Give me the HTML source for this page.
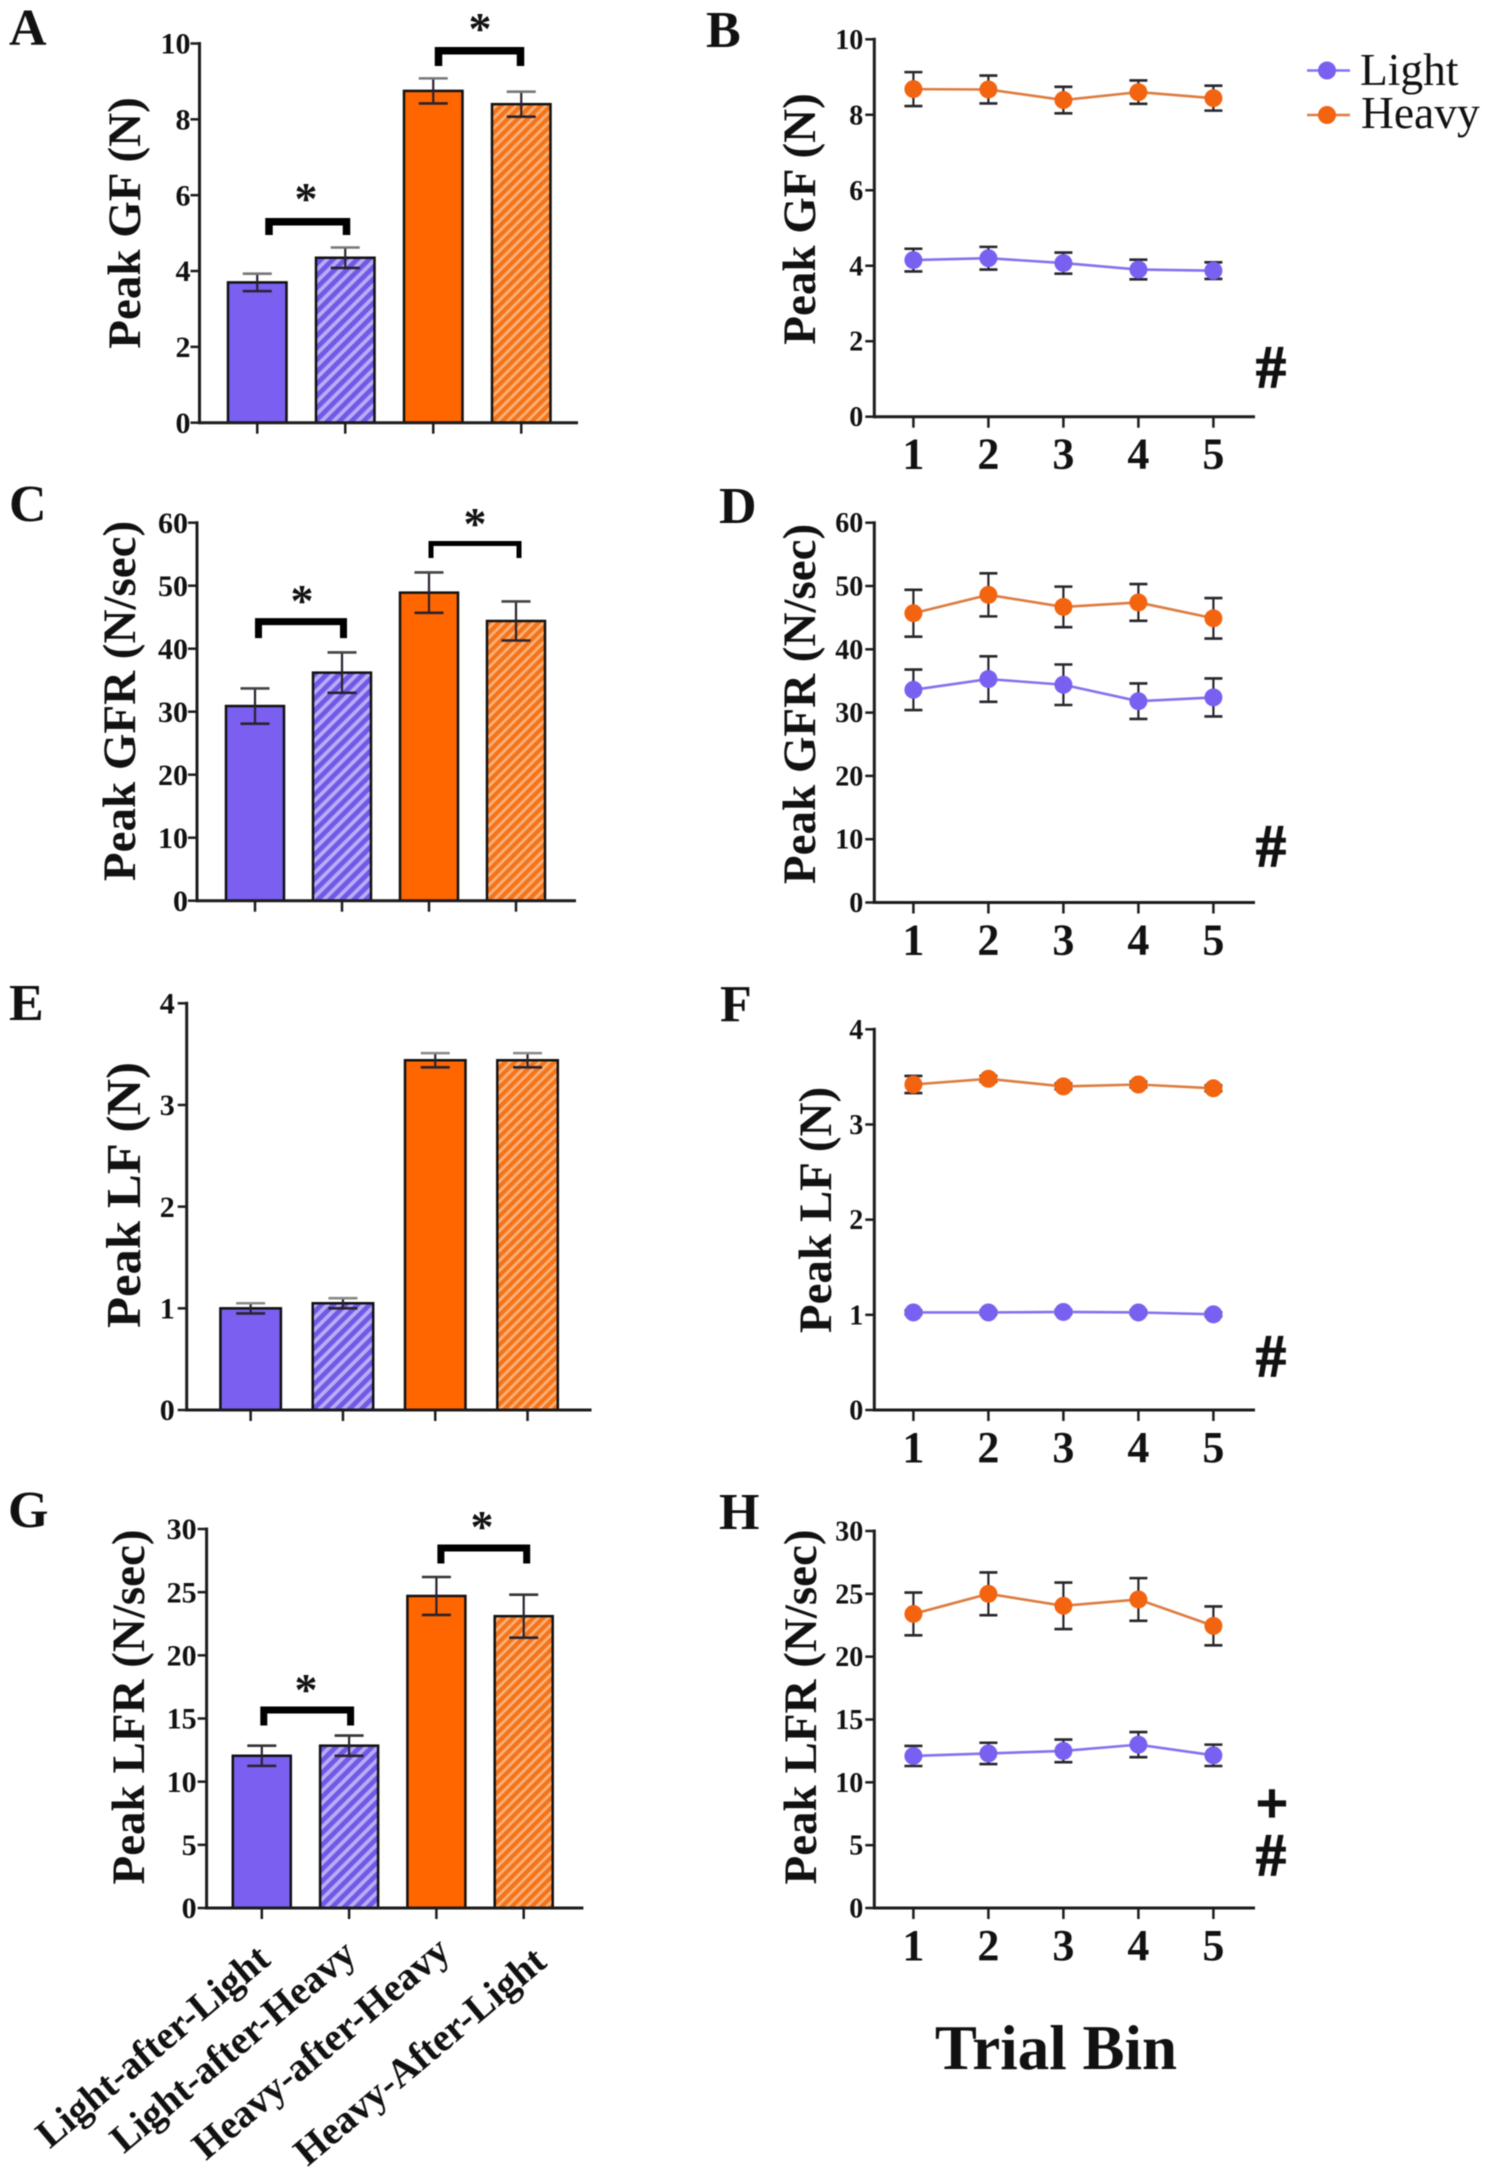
<!DOCTYPE html>
<html lang="en">
<head>
<meta charset="utf-8">
<title>Peak force panels A-H</title>
<style>
html,body{margin:0;padding:0;background:#fff;width:1490px;height:2178px;overflow:hidden}
svg{display:block;filter:blur(0.6px)}
text{font-family:"Liberation Serif","Times New Roman",serif;fill:#111}
.b{font-weight:bold}
.letter{font-size:52px;font-weight:bold}
.ytitle{font-size:47px;font-weight:bold;text-anchor:middle}
.star{font-size:46px;font-weight:bold;text-anchor:middle}
.hash{font-size:60px;font-weight:bold;text-anchor:middle;stroke:#111;stroke-width:1.3px}
.legend{font-size:45.5px}
</style>
</head>
<body>
<svg id="chart" xmlns="http://www.w3.org/2000/svg" width="1490" height="2178" viewBox="0 0 1490 2178">
<defs>
<pattern id="hatch-purple" patternUnits="userSpaceOnUse" width="8.5" height="8.5" patternTransform="rotate(45)">
<rect width="8.5" height="8.5" fill="#b9acf6"/><rect width="4.8" height="8.5" fill="#7159e6"/>
</pattern>
<pattern id="hatch-orange" patternUnits="userSpaceOnUse" width="7" height="7" patternTransform="rotate(45)">
<rect width="7" height="7" fill="#fbb078"/><rect width="4.2" height="7" fill="#f4741a"/>
</pattern>
</defs>

<g id="panel-letters">
<text class="letter" x="9" y="45">A</text>
<text class="letter" x="706" y="47">B</text>
<text class="letter" x="9" y="521">C</text>
<text class="letter" x="719" y="523">D</text>
<text class="letter" x="9" y="1020">E</text>
<text class="letter" x="720" y="1021">F</text>
<text class="letter" x="8" y="1527">G</text>
<text class="letter" x="719" y="1529">H</text>
</g>

<g id="y-titles">
<text class="ytitle" transform="translate(140 223) rotate(-90)">Peak GF (N)</text>
<text class="ytitle" transform="translate(815 219) rotate(-90)">Peak GF (N)</text>
<text class="ytitle" transform="translate(135 701) rotate(-90)">Peak GFR (N/sec)</text>
<text class="ytitle" transform="translate(815 704) rotate(-90)">Peak GFR (N/sec)</text>
<text class="ytitle" transform="translate(140 1195) rotate(-90)" textLength="266" lengthAdjust="spacingAndGlyphs" style="font-size:49px">Peak LF (N)</text>
<text class="ytitle" transform="translate(831 1210) rotate(-90)">Peak LF (N)</text>
<text class="ytitle" transform="translate(144 1707) rotate(-90)">Peak LFR (N/sec)</text>
<text class="ytitle" transform="translate(816 1707) rotate(-90)">Peak LFR (N/sec)</text>
</g>

<g id="stars">
<text class="star" x="306" y="214">*</text>
<text class="star" x="480" y="44">*</text>
<text class="star" x="302" y="616">*</text>
<text class="star" x="475" y="539">*</text>
<text class="star" x="306" y="1705">*</text>
<text class="star" x="482" y="1542">*</text>
</g>

<g id="symbols">
<text class="hash" x="1271" y="387">#</text>
<text class="hash" x="1271" y="866">#</text>
<text class="hash" x="1271" y="1376">#</text>
<text class="hash" x="1271" y="1875">#</text>
<text class="hash" x="1272" y="1822" style="font-size:56px;stroke-width:2.2px">+</text>
</g>

<text class="b" x="1056" y="2069" text-anchor="middle" style="font-size:63px">Trial Bin</text>

<g id="legend">
<g>
<line x1="1307" x2="1350" y1="70.5" y2="70.5" stroke="#8472ee" stroke-width="2.5"/>
<circle cx="1327" cy="70.5" r="9" fill="#7a60f0"/>
<text class="legend" x="1360" y="85">Light</text>
</g>
<g>
<line x1="1307" x2="1350" y1="115" y2="115" stroke="#dd7c40" stroke-width="2.5"/>
<circle cx="1327" cy="115" r="9" fill="#f26410"/>
<text class="legend" x="1361" y="128">Heavy</text>
</g>
</g>

<g id="plots"></g>
</svg>

<script>
// ---- categories and ticks ----
const barCategories = ['Light-after-Light', 'Light-after-Heavy', 'Heavy-after-Heavy', 'Heavy-After-Light'];
const binCategories = ['1', '2', '3', '4', '5'];
const gfTicks = [0, 2, 4, 6, 8, 10];
const gfrTicks = [0, 10, 20, 30, 40, 50, 60];
const lfTicks = [0, 1, 2, 3, 4];
const lfrTicks = [0, 5, 10, 15, 20, 25, 30];

// ---- bar panels: means and SEMs ----
const gfBarValues = [3.7, 4.35, 8.75, 8.4];
const gfBarErrors = [0.23, 0.27, 0.33, 0.33];
const gfBracketLevels = [5.3, 9.81];
const gfrBarValues = [30.9, 36.2, 48.9, 44.4];
const gfrBarErrors = [2.8, 3.2, 3.2, 3.1];
const gfrBracketLevels = [44.3, 56.7];
const lfBarValues = [1.0, 1.05, 3.44, 3.44];
const lfBarErrors = [0.05, 0.05, 0.07, 0.07];
const lfBracketLevels = [];
const lfrBarValues = [12.05, 12.85, 24.7, 23.1];
const lfrBarErrors = [0.8, 0.8, 1.5, 1.7];
const lfrBracketLevels = [15.67, 28.5];

// ---- line panels: means and SEMs per trial bin ----
const gfLight = [4.15, 4.2, 4.07, 3.9, 3.87];
const gfLightErr = [0.3, 0.3, 0.28, 0.26, 0.22];
const gfHeavy = [8.68, 8.67, 8.39, 8.6, 8.44];
const gfHeavyErr = [0.45, 0.37, 0.35, 0.31, 0.33];
const gfrLight = [33.6, 35.3, 34.4, 31.8, 32.4];
const gfrLightErr = [3.2, 3.6, 3.2, 2.8, 3.0];
const gfrHeavy = [45.7, 48.6, 46.7, 47.4, 44.9];
const gfrHeavyErr = [3.7, 3.4, 3.2, 2.9, 3.2];
const lfLight = [1.025, 1.025, 1.03, 1.025, 1.005];
const lfLightErr = [0.02, 0.02, 0.02, 0.02, 0.02];
const lfHeavy = [3.42, 3.48, 3.4, 3.42, 3.38];
const lfHeavyErr = [0.09, 0.03, 0.03, 0.03, 0.03];
const lfrLight = [12.1, 12.3, 12.5, 13.0, 12.15];
const lfrLightErr = [0.8, 0.85, 0.9, 1.0, 0.85];
const lfrHeavy = [23.4, 25.0, 24.05, 24.55, 22.45];
const lfrHeavyErr = [1.7, 1.7, 1.85, 1.7, 1.55];

const SVGNS = 'http://www.w3.org/2000/svg';
const plots = document.getElementById('plots');
const AXIS = '#1c1c1c';

function make(parent, tag) {
  const el = document.createElementNS(SVGNS, tag);
  parent.appendChild(el);
  return el;
}
function drawLine(el, x1, y1, x2, y2, color, width) {
  el.setAttribute('x1', x1);
  el.setAttribute('y1', y1);
  el.setAttribute('x2', x2);
  el.setAttribute('y2', y2);
  el.setAttribute('stroke', color);
  el.setAttribute('stroke-width', width);
}

function drawAxes(g, p, ticks, yScale, xTicks) {
  const yAxis = make(g, 'line');
  
  
  drawLine(yAxis, p.x0, p.yTop - 1.5, p.x0, p.y0 + 1.5, AXIS, 3);
  const xAxis = make(g, 'line');
  
  
  drawLine(xAxis, p.x0, p.y0, p.xEnd, p.y0, AXIS, 3);
  ticks.forEach(function (t) {
    const y = yScale(t);
    const tick = make(g, 'line');
    
    
    drawLine(tick, p.x0 - 9, y, p.x0, y, AXIS, 2.5);
    const lab = make(g, 'text');
    
    
    lab.setAttribute('x', p.x0 - p.labelGap);
    lab.setAttribute('y', y + p.tickFont * 0.34);
    lab.setAttribute('text-anchor', 'end');
    lab.setAttribute('class', 'b');
    lab.style.fontSize = p.tickFont + 'px';
    lab.textContent = t;
  });
  xTicks.forEach(function (x) {
    const tick = make(g, 'line');
    
    
    drawLine(tick, x, p.y0, x, p.y0 + 11, AXIS, 2.5);
  });
}

function drawErr(g, x, y, err, yScale, capHalf, color, topColor) {
  const hi = yScale(y + err);
  const lo = yScale(y - err);
  const stem = make(g, 'line');
  
  
  drawLine(stem, x, hi, x, lo, color, 2.2);
  const capTop = make(g, 'line');
  
  
  drawLine(capTop, x - capHalf, hi, x + capHalf, hi, topColor, 2.6);
  const capLow = make(g, 'line');
  
  
  drawLine(capLow, x - capHalf, lo, x + capHalf, lo, color, 2.6);
}

function barPanel(name, p, values, errors, ticks, levels) {
  const g = make(plots, 'g');
  
  
  const yScale = function (v) { return p.y0 - v * (p.y0 - p.yTop) / ticks[ticks.length - 1]; };
  const xLeft = function (i) { return p.bandStart + i * p.bandStep; };
  const xMid = function (i) { return xLeft(i) + p.barW / 2; };
  const fills = ['#7a5ff0', 'url(#hatch-purple)', '#ff6600', 'url(#hatch-orange)'];
  values.forEach(function (v, i) {
    const rect = make(g, 'rect');
    
    
    rect.setAttribute('x', xLeft(i));
    rect.setAttribute('y', yScale(v));
    rect.setAttribute('width', p.barW);
    rect.setAttribute('height', p.y0 - yScale(v));
    rect.setAttribute('fill', fills[i]);
    rect.setAttribute('stroke', '#111');
    rect.setAttribute('stroke-width', 2.5);
  });
  values.forEach(function (v, i) {
    drawErr(g, xMid(i), v, errors[i], yScale, 14.5, '#2a2230', p.capTop);
  });
  drawAxes(g, p, ticks, yScale, values.map(function (v, i) { return xMid(i); }));
  levels.forEach(function (lvl, k) {
    const b = p.brackets[k];
    const xa = xMid(b.from) + b.dxFrom + b.weight / 2;
    const xb = xMid(b.to) + b.dxTo - b.weight / 2;
    const y = yScale(lvl);
    const end = y + b.drop - b.weight / 2;
    const path = make(g, 'path');
    
    
    path.setAttribute('d', 'M' + xa + ' ' + end + 'V' + y + 'H' + xb + 'V' + end);
    path.setAttribute('fill', 'none');
    path.setAttribute('stroke', '#000');
    path.setAttribute('stroke-width', b.weight);
  });
}

function linePanel(name, p, light, lightErr, heavy, heavyErr, ticks) {
  const g = make(plots, 'g');
  
  
  const yScale = function (v) { return p.y0 - v * (p.y0 - p.yTop) / ticks[ticks.length - 1]; };
  const xBin = function (i) { return p.binStart + i * p.binStep; };
  drawAxes(g, p, ticks, yScale, binCategories.map(function (c, i) { return xBin(i); }));
  binCategories.forEach(function (c, i) {
    const lab = make(g, 'text');
    
    
    lab.setAttribute('x', xBin(i));
    lab.setAttribute('y', p.y0 + 52);
    lab.setAttribute('text-anchor', 'middle');
    lab.setAttribute('class', 'b');
    lab.style.fontSize = '44px';
    lab.textContent = c;
  });
  const series = [
    { key: 'light', vals: light, errs: lightErr, line: '#8472ee', fill: '#7a60f0' },
    { key: 'heavy', vals: heavy, errs: heavyErr, line: '#dd7c40', fill: '#f26410' }
  ];
  series.forEach(function (s) {
    const sg = make(g, 'g');
    
    
    s.vals.forEach(function (v, i) {
      drawErr(sg, xBin(i), v, s.errs[i], yScale, 9, '#26262c', '#26262c');
    });
    const pl = make(sg, 'polyline');
    
    
    pl.setAttribute('points', s.vals.map(function (v, i) { return xBin(i) + ',' + yScale(v); }).join(' '));
    pl.setAttribute('fill', 'none');
    pl.setAttribute('stroke', s.line);
    pl.setAttribute('stroke-width', 2.6);
    s.vals.forEach(function (v, i) {
      const c = make(sg, 'circle');
      
      
      c.setAttribute('cx', xBin(i));
      c.setAttribute('cy', yScale(v));
      c.setAttribute('r', 9);
      c.setAttribute('fill', s.fill);
    });
  });
}

// ---- layout (pixels) ----
const binLayout = { binStart: 913.4, binStep: 75, x0: 874.3, xEnd: 1255, tickFont: 28, labelGap: 11 };

barPanel('a', { x0: 199.5, xEnd: 578, y0: 422.7, yTop: 43.5, bandStart: 228, bandStep: 88, barW: 58.5, tickFont: 30, labelGap: 9, capTop: '#777',
  brackets: [{ from: 0, to: 1, dxFrom: 8, dxTo: 5, drop: 17, weight: 7.5 }, { from: 2, to: 3, dxFrom: 1.5, dxTo: 3, drop: 19, weight: 7.5 }] },
  gfBarValues, gfBarErrors, gfTicks, gfBracketLevels);

barPanel('c', { x0: 197, xEnd: 576, y0: 900.7, yTop: 522.7, bandStart: 226, bandStep: 87, barW: 58, tickFont: 30, labelGap: 9, capTop: '#444',
  brackets: [{ from: 0, to: 1, dxFrom: 0, dxTo: 5, drop: 20, weight: 7 }, { from: 2, to: 3, dxFrom: -0.5, dxTo: 5.5, drop: 17, weight: 5 }] },
  gfrBarValues, gfrBarErrors, gfrTicks, gfrBracketLevels);

barPanel('e', { x0: 186.7, xEnd: 591.5, y0: 1410, yTop: 1003.3, bandStart: 220.4, bandStep: 92.3, barW: 60.5, tickFont: 30, labelGap: 12, capTop: '#888',
  brackets: [] },
  lfBarValues, lfBarErrors, lfTicks, lfBracketLevels);

barPanel('g', { x0: 206.6, xEnd: 583.4, y0: 1908, yTop: 1529, bandStart: 232.8, bandStep: 87.3, barW: 58, tickFont: 30, labelGap: 10, capTop: '#333',
  brackets: [{ from: 0, to: 1, dxFrom: -1.5, dxTo: 5, drop: 19, weight: 7 }, { from: 2, to: 3, dxFrom: 1, dxTo: 6.5, drop: 19, weight: 7 }] },
  lfrBarValues, lfrBarErrors, lfrTicks, lfrBracketLevels);

linePanel('b', Object.assign({ y0: 416.7, yTop: 39.3 }, binLayout), gfLight, gfLightErr, gfHeavy, gfHeavyErr, gfTicks);
linePanel('d', Object.assign({ y0: 902.5, yTop: 522.7 }, binLayout), gfrLight, gfrLightErr, gfrHeavy, gfrHeavyErr, gfrTicks);
linePanel('f', Object.assign({ y0: 1410, yTop: 1029.3 }, binLayout), lfLight, lfLightErr, lfHeavy, lfHeavyErr, lfTicks);
linePanel('h', Object.assign({ y0: 1908, yTop: 1531 }, binLayout), lfrLight, lfrLightErr, lfrHeavy, lfrHeavyErr, lfrTicks);

// ---- rotated category labels under panel G ----
const labelCentreX = [161, 241, 329, 428];
const labelCentreY = [2056, 2056, 2058, 2066];
barCategories.forEach(function (cat, i) {
  const t = make(plots, 'text');
  
  
  t.setAttribute('text-anchor', 'middle');
  t.setAttribute('class', 'b');
  t.setAttribute('transform', 'translate(' + labelCentreX[i] + ' ' + labelCentreY[i] + ') rotate(-40)');
  t.style.fontSize = '39.5px';
  t.textContent = cat;
});
</script>
</body>
</html>
